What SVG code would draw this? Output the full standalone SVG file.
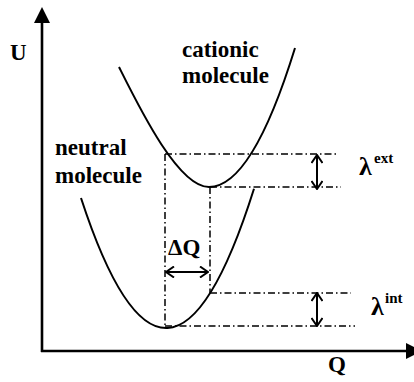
<svg xmlns="http://www.w3.org/2000/svg" width="414" height="382" viewBox="0 0 414 382">
<style>
.t{font-family:'Liberation Serif','DejaVu Serif',serif;font-weight:700;font-size:23px;fill:#000}
.ax{stroke:#000;stroke-width:2.6;fill:none}
.cv{stroke:#000;stroke-width:2;fill:none}
.dd{stroke:#000;stroke-width:1.5;fill:none;stroke-dasharray:7 3 1.5 3}
.da{stroke:#000;stroke-width:2;fill:none;marker-start:url(#oa);marker-end:url(#oa)}
</style>
<defs>
<marker id="oa" viewBox="0 0 10 12" refX="9" refY="6" markerWidth="10" markerHeight="12" markerUnits="userSpaceOnUse" orient="auto-start-reverse">
<path d="M1,0.5 L9,6 L1,11.5" fill="none" stroke="#000" stroke-width="2"/>
</marker>
</defs>
<g id="axes">
<line class="ax" x1="42" y1="20" x2="42" y2="352"/>
<polygon points="42,7 34,23 50,23" fill="#000"/>
<line class="ax" x1="41" y1="351" x2="408" y2="351"/>
<polygon points="406,343 406,359 422,351" fill="#000"/>
<text class="t" x="10" y="60" font-family="Liberation Serif">U</text>
<text class="t" x="328" y="372" font-family="Liberation Serif">Q</text>
</g>
<g id="neutral">
<path class="cv" d="M81,198 Q167.5,462.7 254,188.7"/>
<text class="t" x="55" y="155">neutral</text>
<text class="t" x="55" y="183">molecule</text>
</g>
<g id="cationic">
<path class="cv" d="M119,67 C139,107 178,187 209,187 Q252,187 295,48"/>
<text class="t" x="182" y="57">cationic</text>
<text class="t" x="182" y="83">molecule</text>
</g>
<g id="connectors">
<line class="dd" x1="165" y1="154" x2="336" y2="154"/>
<line class="dd" x1="210" y1="187" x2="341" y2="187"/>
<line class="dd" x1="210" y1="293" x2="351" y2="293"/>
<line class="dd" x1="165" y1="326" x2="355" y2="326"/>
<line class="dd" x1="165" y1="154" x2="165" y2="326"/>
<line class="dd" x1="210" y1="187" x2="210" y2="293"/>
<line class="da" x1="317" y1="155" x2="317" y2="189"/>
<line class="da" x1="317" y1="293" x2="317" y2="326"/>
<line class="da" x1="166" y1="272" x2="208" y2="272"/>
</g>
<g id="labels">
<text class="t" x="168" y="255">ΔQ</text>
<text class="t" x="359" y="175" style="font-size:26px">λ</text>
<text class="t" x="374" y="163" style="font-size:15px">ext</text>
<text class="t" x="371" y="315" style="font-size:26px">λ</text>
<text class="t" x="385" y="303" style="font-size:15px">int</text>
</g>
</svg>
